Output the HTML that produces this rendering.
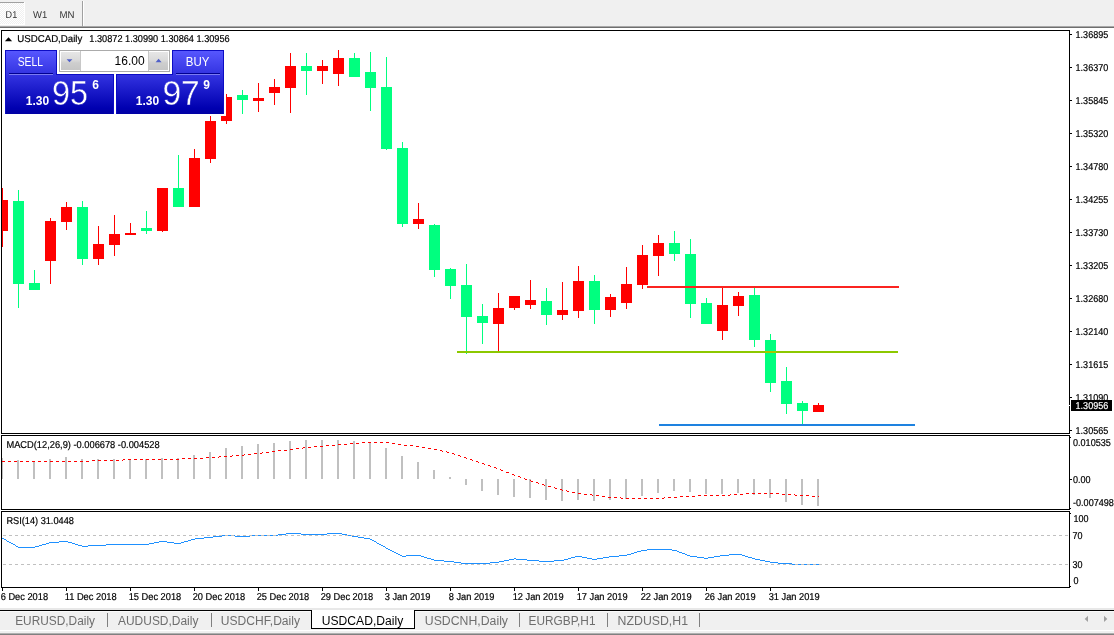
<!DOCTYPE html>
<html><head><meta charset="utf-8"><title>USDCAD,Daily</title>
<style>
html,body{margin:0;padding:0;background:#fff;}
body{width:1114px;height:635px;overflow:hidden;font-family:"Liberation Sans",sans-serif;}
svg{display:block;position:absolute;left:0;top:0;}
text{font-family:"Liberation Sans",sans-serif;}
.t9{font-size:10px;fill:#000;stroke:#000;stroke-width:0.2px;text-rendering:geometricPrecision;}
.tab{font-size:12px;fill:#6e6e6e;}
</style></head><body>
<svg width="1114" height="635" viewBox="0 0 1114 635">
<defs>
<pattern id="dith" x="0" y="0" width="2" height="2" patternUnits="userSpaceOnUse"><rect width="2" height="2" fill="#f0f0f0"/><rect x="0" y="0" width="1" height="1" fill="#fff"/><rect x="1" y="1" width="1" height="1" fill="#fff"/></pattern>
<linearGradient id="gbtn" x1="0" y1="0" x2="0" y2="1"><stop offset="0" stop-color="#5858ff"/><stop offset="1" stop-color="#3232e0"/></linearGradient>
<linearGradient id="gbox" gradientUnits="userSpaceOnUse" x1="0" y1="74" x2="0" y2="114"><stop offset="0" stop-color="#3434e2"/><stop offset="0.85" stop-color="#0000b0"/><stop offset="1" stop-color="#0000a4"/></linearGradient>
<linearGradient id="gspin" x1="0" y1="0" x2="0" y2="1"><stop offset="0" stop-color="#e6e6e6"/><stop offset="0.45" stop-color="#dadada"/><stop offset="0.6" stop-color="#cecece"/><stop offset="1" stop-color="#c6c6c6"/></linearGradient>
</defs>
<g shape-rendering="crispEdges">

<rect x="0" y="0" width="1114" height="635" fill="#fff"/>
<rect x="0" y="0" width="1114" height="26" fill="#f0f0f0"/>
<rect x="0" y="26" width="1114" height="1" fill="#a8a8a8"/>
<rect x="0" y="27" width="1114" height="1" fill="#6e6e6e"/>
<rect x="0" y="3" width="24" height="21" fill="url(#dith)"/>
<rect x="0" y="2" width="24" height="1" fill="#a0a0a0"/>
<rect x="24" y="2" width="1" height="23" fill="#fff"/><rect x="0" y="24" width="25" height="1" fill="#fff"/>
<rect x="82" y="1" width="1" height="26" fill="#a0a0a0"/><rect x="83" y="1" width="1" height="25" fill="#fff"/>
<clipPath id="cc"><rect x="2" y="31" width="1067" height="402"/></clipPath><g clip-path="url(#cc)">
<rect x="2" y="188" width="1" height="59" fill="#ff0000"/>
<rect x="-3" y="200" width="11" height="31" fill="#ff0000"/>
<rect x="18" y="190" width="1" height="118" fill="#00ff7f"/>
<rect x="13" y="201" width="11" height="83" fill="#00ff7f"/>
<rect x="34" y="270" width="1" height="20" fill="#00ff7f"/>
<rect x="29" y="283" width="11" height="7" fill="#00ff7f"/>
<rect x="50" y="218" width="1" height="66" fill="#ff0000"/>
<rect x="45" y="221" width="11" height="40" fill="#ff0000"/>
<rect x="66" y="202" width="1" height="28" fill="#ff0000"/>
<rect x="61" y="207" width="11" height="15" fill="#ff0000"/>
<rect x="82" y="201" width="1" height="64" fill="#00ff7f"/>
<rect x="77" y="207" width="11" height="52" fill="#00ff7f"/>
<rect x="98" y="226" width="1" height="39" fill="#ff0000"/>
<rect x="93" y="244" width="11" height="15" fill="#ff0000"/>
<rect x="114" y="215" width="1" height="41" fill="#ff0000"/>
<rect x="109" y="234" width="11" height="11" fill="#ff0000"/>
<rect x="130" y="223" width="1" height="12" fill="#ff0000"/>
<rect x="125" y="233" width="11" height="2" fill="#ff0000"/>
<rect x="146" y="211" width="1" height="23" fill="#00ff7f"/>
<rect x="141" y="228" width="11" height="3" fill="#00ff7f"/>
<rect x="162" y="188" width="1" height="44" fill="#ff0000"/>
<rect x="157" y="188" width="11" height="43" fill="#ff0000"/>
<rect x="178" y="155" width="1" height="52" fill="#00ff7f"/>
<rect x="173" y="188" width="11" height="19" fill="#00ff7f"/>
<rect x="194" y="149" width="1" height="58" fill="#ff0000"/>
<rect x="189" y="158" width="11" height="49" fill="#ff0000"/>
<rect x="210" y="116" width="1" height="47" fill="#ff0000"/>
<rect x="205" y="121" width="11" height="38" fill="#ff0000"/>
<rect x="226" y="94" width="1" height="30" fill="#ff0000"/>
<rect x="221" y="97" width="11" height="24" fill="#ff0000"/>
<rect x="242" y="90" width="1" height="24" fill="#00ff7f"/>
<rect x="237" y="95" width="11" height="5" fill="#00ff7f"/>
<rect x="258" y="83" width="1" height="29" fill="#ff0000"/>
<rect x="253" y="98" width="11" height="3" fill="#ff0000"/>
<rect x="274" y="79" width="1" height="26" fill="#ff0000"/>
<rect x="269" y="87" width="11" height="6" fill="#ff0000"/>
<rect x="290" y="53" width="1" height="60" fill="#ff0000"/>
<rect x="285" y="66" width="11" height="22" fill="#ff0000"/>
<rect x="306" y="53" width="1" height="42" fill="#00ff7f"/>
<rect x="301" y="66" width="11" height="5" fill="#00ff7f"/>
<rect x="322" y="60" width="1" height="24" fill="#ff0000"/>
<rect x="317" y="66" width="11" height="5" fill="#ff0000"/>
<rect x="338" y="50" width="1" height="36" fill="#ff0000"/>
<rect x="333" y="58" width="11" height="16" fill="#ff0000"/>
<rect x="354" y="53" width="1" height="24" fill="#00ff7f"/>
<rect x="349" y="58" width="11" height="19" fill="#00ff7f"/>
<rect x="370" y="52" width="1" height="59" fill="#00ff7f"/>
<rect x="365" y="72" width="11" height="16" fill="#00ff7f"/>
<rect x="386" y="57" width="1" height="93" fill="#00ff7f"/>
<rect x="381" y="87" width="11" height="62" fill="#00ff7f"/>
<rect x="402" y="142" width="1" height="85" fill="#00ff7f"/>
<rect x="397" y="148" width="11" height="76" fill="#00ff7f"/>
<rect x="418" y="203" width="1" height="26" fill="#ff0000"/>
<rect x="413" y="219" width="11" height="5" fill="#ff0000"/>
<rect x="434" y="224" width="1" height="53" fill="#00ff7f"/>
<rect x="429" y="225" width="11" height="45" fill="#00ff7f"/>
<rect x="450" y="268" width="1" height="31" fill="#00ff7f"/>
<rect x="445" y="269" width="11" height="17" fill="#00ff7f"/>
<rect x="466" y="264" width="1" height="90" fill="#00ff7f"/>
<rect x="461" y="285" width="11" height="32" fill="#00ff7f"/>
<rect x="482" y="304" width="1" height="40" fill="#00ff7f"/>
<rect x="477" y="316" width="11" height="7" fill="#00ff7f"/>
<rect x="498" y="293" width="1" height="59" fill="#ff0000"/>
<rect x="493" y="308" width="11" height="16" fill="#ff0000"/>
<rect x="514" y="296" width="1" height="14" fill="#ff0000"/>
<rect x="509" y="296" width="11" height="12" fill="#ff0000"/>
<rect x="530" y="280" width="1" height="29" fill="#ff0000"/>
<rect x="525" y="300" width="11" height="5" fill="#ff0000"/>
<rect x="546" y="288" width="1" height="37" fill="#00ff7f"/>
<rect x="541" y="301" width="11" height="14" fill="#00ff7f"/>
<rect x="562" y="282" width="1" height="38" fill="#ff0000"/>
<rect x="557" y="310" width="11" height="5" fill="#ff0000"/>
<rect x="578" y="266" width="1" height="52" fill="#ff0000"/>
<rect x="573" y="281" width="11" height="30" fill="#ff0000"/>
<rect x="594" y="275" width="1" height="49" fill="#00ff7f"/>
<rect x="589" y="281" width="11" height="29" fill="#00ff7f"/>
<rect x="610" y="294" width="1" height="23" fill="#ff0000"/>
<rect x="605" y="297" width="11" height="13" fill="#ff0000"/>
<rect x="626" y="267" width="1" height="42" fill="#ff0000"/>
<rect x="621" y="284" width="11" height="19" fill="#ff0000"/>
<rect x="642" y="245" width="1" height="44" fill="#ff0000"/>
<rect x="637" y="255" width="11" height="30" fill="#ff0000"/>
<rect x="658" y="235" width="1" height="41" fill="#ff0000"/>
<rect x="653" y="243" width="11" height="13" fill="#ff0000"/>
<rect x="674" y="231" width="1" height="30" fill="#00ff7f"/>
<rect x="669" y="243" width="11" height="11" fill="#00ff7f"/>
<rect x="690" y="239" width="1" height="79" fill="#00ff7f"/>
<rect x="685" y="254" width="11" height="50" fill="#00ff7f"/>
<rect x="706" y="298" width="1" height="26" fill="#00ff7f"/>
<rect x="701" y="303" width="11" height="21" fill="#00ff7f"/>
<rect x="722" y="287" width="1" height="53" fill="#ff0000"/>
<rect x="717" y="305" width="11" height="26" fill="#ff0000"/>
<rect x="738" y="292" width="1" height="24" fill="#ff0000"/>
<rect x="733" y="296" width="11" height="10" fill="#ff0000"/>
<rect x="754" y="287" width="1" height="60" fill="#00ff7f"/>
<rect x="749" y="295" width="11" height="45" fill="#00ff7f"/>
<rect x="770" y="334" width="1" height="58" fill="#00ff7f"/>
<rect x="765" y="340" width="11" height="43" fill="#00ff7f"/>
<rect x="786" y="367" width="1" height="47" fill="#00ff7f"/>
<rect x="781" y="381" width="11" height="23" fill="#00ff7f"/>
<rect x="802" y="401" width="1" height="23" fill="#00ff7f"/>
<rect x="797" y="403" width="11" height="8" fill="#00ff7f"/>
<rect x="818" y="403" width="1" height="9" fill="#ff0000"/>
<rect x="813" y="405" width="11" height="7" fill="#ff0000"/>
</g>
<rect x="647" y="286" width="252" height="2" fill="#fb2420"/>
<rect x="457" y="351" width="441" height="2" fill="#8cc800"/><rect x="765" y="351" width="11" height="2" fill="#a8c400"/>
<rect x="659" y="424" width="256" height="2" fill="#1e82e0"/>
<rect x="1" y="458" width="2" height="21" fill="#c0c0c0"/>
<rect x="17" y="460" width="2" height="19" fill="#c0c0c0"/>
<rect x="33" y="461" width="2" height="18" fill="#c0c0c0"/>
<rect x="49" y="459" width="2" height="20" fill="#c0c0c0"/>
<rect x="65" y="457" width="2" height="22" fill="#c0c0c0"/>
<rect x="81" y="459" width="2" height="20" fill="#c0c0c0"/>
<rect x="97" y="459" width="2" height="20" fill="#c0c0c0"/>
<rect x="113" y="459" width="2" height="20" fill="#c0c0c0"/>
<rect x="129" y="459" width="2" height="20" fill="#c0c0c0"/>
<rect x="145" y="459" width="2" height="20" fill="#c0c0c0"/>
<rect x="161" y="458" width="2" height="21" fill="#c0c0c0"/>
<rect x="177" y="458" width="2" height="21" fill="#c0c0c0"/>
<rect x="193" y="455" width="2" height="24" fill="#c0c0c0"/>
<rect x="209" y="452" width="2" height="27" fill="#c0c0c0"/>
<rect x="225" y="448" width="2" height="31" fill="#c0c0c0"/>
<rect x="241" y="446" width="2" height="33" fill="#c0c0c0"/>
<rect x="257" y="444" width="2" height="35" fill="#c0c0c0"/>
<rect x="273" y="443" width="2" height="36" fill="#c0c0c0"/>
<rect x="289" y="441" width="2" height="38" fill="#c0c0c0"/>
<rect x="305" y="440" width="2" height="39" fill="#c0c0c0"/>
<rect x="321" y="440" width="2" height="39" fill="#c0c0c0"/>
<rect x="337" y="440" width="2" height="39" fill="#c0c0c0"/>
<rect x="353" y="441" width="2" height="38" fill="#c0c0c0"/>
<rect x="369" y="442" width="2" height="37" fill="#c0c0c0"/>
<rect x="385" y="448" width="2" height="31" fill="#c0c0c0"/>
<rect x="401" y="456" width="2" height="23" fill="#c0c0c0"/>
<rect x="417" y="462" width="2" height="17" fill="#c0c0c0"/>
<rect x="433" y="470" width="2" height="9" fill="#c0c0c0"/>
<rect x="449" y="477" width="2" height="2" fill="#c0c0c0"/>
<rect x="465" y="479" width="2" height="6" fill="#c0c0c0"/>
<rect x="481" y="479" width="2" height="12" fill="#c0c0c0"/>
<rect x="497" y="479" width="2" height="16" fill="#c0c0c0"/>
<rect x="513" y="479" width="2" height="18" fill="#c0c0c0"/>
<rect x="529" y="479" width="2" height="19" fill="#c0c0c0"/>
<rect x="545" y="479" width="2" height="21" fill="#c0c0c0"/>
<rect x="561" y="479" width="2" height="22" fill="#c0c0c0"/>
<rect x="577" y="479" width="2" height="21" fill="#c0c0c0"/>
<rect x="593" y="479" width="2" height="22" fill="#c0c0c0"/>
<rect x="609" y="479" width="2" height="21" fill="#c0c0c0"/>
<rect x="625" y="479" width="2" height="20" fill="#c0c0c0"/>
<rect x="641" y="479" width="2" height="17" fill="#c0c0c0"/>
<rect x="657" y="479" width="2" height="14" fill="#c0c0c0"/>
<rect x="673" y="479" width="2" height="12" fill="#c0c0c0"/>
<rect x="689" y="479" width="2" height="13" fill="#c0c0c0"/>
<rect x="705" y="479" width="2" height="15" fill="#c0c0c0"/>
<rect x="721" y="479" width="2" height="15" fill="#c0c0c0"/>
<rect x="737" y="479" width="2" height="14" fill="#c0c0c0"/>
<rect x="753" y="479" width="2" height="16" fill="#c0c0c0"/>
<rect x="769" y="479" width="2" height="19" fill="#c0c0c0"/>
<rect x="785" y="479" width="2" height="23" fill="#c0c0c0"/>
<rect x="801" y="479" width="2" height="26" fill="#c0c0c0"/>
<rect x="817" y="479" width="2" height="27" fill="#c0c0c0"/>
<g fill="#ff0000"><rect x="2" y="461" width="3" height="1"/><rect x="8" y="461" width="3" height="1"/><rect x="14" y="461" width="3" height="1"/><rect x="20" y="461" width="3" height="1"/><rect x="26" y="461" width="3" height="1"/><rect x="32" y="461" width="3" height="1"/><rect x="38" y="461" width="3" height="1"/><rect x="44" y="461" width="3" height="1"/><rect x="50" y="461" width="3" height="1"/><rect x="56" y="461" width="3" height="1"/><rect x="62" y="461" width="3" height="1"/><rect x="68" y="461" width="3" height="1"/><rect x="74" y="461" width="3" height="1"/><rect x="80" y="461" width="3" height="1"/><rect x="86" y="461" width="3" height="1"/><rect x="92" y="460" width="3" height="1"/><rect x="98" y="460" width="3" height="1"/><rect x="104" y="460" width="3" height="1"/><rect x="110" y="460" width="3" height="1"/><rect x="116" y="460" width="3" height="1"/><rect x="122" y="460" width="1" height="1"/><rect x="123" y="459" width="2" height="1"/><rect x="128" y="459" width="3" height="1"/><rect x="134" y="459" width="3" height="1"/><rect x="140" y="459" width="3" height="1"/><rect x="146" y="459" width="3" height="1"/><rect x="152" y="459" width="3" height="1"/><rect x="158" y="459" width="3" height="1"/><rect x="164" y="459" width="3" height="1"/><rect x="170" y="459" width="3" height="1"/><rect x="176" y="459" width="3" height="1"/><rect x="182" y="458" width="3" height="1"/><rect x="188" y="458" width="3" height="1"/><rect x="194" y="458" width="3" height="1"/><rect x="200" y="458" width="3" height="1"/><rect x="206" y="457" width="3" height="1"/><rect x="212" y="457" width="3" height="1"/><rect x="218" y="457" width="1" height="1"/><rect x="219" y="456" width="2" height="1"/><rect x="224" y="456" width="3" height="1"/><rect x="230" y="456" width="2" height="1"/><rect x="232" y="455" width="1" height="1"/><rect x="236" y="455" width="3" height="1"/><rect x="242" y="455" width="2" height="1"/><rect x="244" y="454" width="1" height="1"/><rect x="248" y="454" width="3" height="1"/><rect x="254" y="453" width="3" height="1"/><rect x="260" y="453" width="2" height="1"/><rect x="262" y="452" width="1" height="1"/><rect x="266" y="452" width="3" height="1"/><rect x="272" y="451" width="3" height="1"/><rect x="278" y="450" width="3" height="1"/><rect x="284" y="450" width="3" height="1"/><rect x="290" y="449" width="3" height="1"/><rect x="296" y="448" width="3" height="1"/><rect x="302" y="448" width="1" height="1"/><rect x="303" y="447" width="2" height="1"/><rect x="308" y="447" width="3" height="1"/><rect x="314" y="446" width="3" height="1"/><rect x="320" y="446" width="3" height="1"/><rect x="326" y="445" width="3" height="1"/><rect x="332" y="445" width="3" height="1"/><rect x="338" y="444" width="3" height="1"/><rect x="344" y="444" width="3" height="1"/><rect x="350" y="443" width="3" height="1"/><rect x="356" y="443" width="3" height="1"/><rect x="362" y="442" width="3" height="1"/><rect x="368" y="442" width="3" height="1"/><rect x="374" y="442" width="3" height="1"/><rect x="380" y="442" width="3" height="1"/><rect x="386" y="442" width="3" height="1"/><rect x="392" y="443" width="3" height="1"/><rect x="398" y="444" width="3" height="1"/><rect x="404" y="445" width="3" height="1"/><rect x="410" y="445" width="3" height="1"/><rect x="416" y="446" width="3" height="1"/><rect x="422" y="447" width="3" height="1"/><rect x="428" y="448" width="3" height="1"/><rect x="434" y="449" width="3" height="1"/><rect x="440" y="450" width="2" height="1"/><rect x="442" y="451" width="1" height="1"/><rect x="446" y="451" width="1" height="1"/><rect x="447" y="452" width="2" height="1"/><rect x="452" y="453" width="2" height="1"/><rect x="454" y="454" width="1" height="1"/><rect x="458" y="455" width="2" height="1"/><rect x="460" y="456" width="1" height="1"/><rect x="464" y="457" width="2" height="1"/><rect x="466" y="458" width="1" height="1"/><rect x="470" y="459" width="2" height="1"/><rect x="472" y="460" width="1" height="1"/><rect x="476" y="461" width="2" height="1"/><rect x="478" y="462" width="1" height="1"/><rect x="482" y="463" width="2" height="1"/><rect x="484" y="464" width="1" height="1"/><rect x="488" y="465" width="2" height="1"/><rect x="490" y="466" width="1" height="1"/><rect x="494" y="467" width="2" height="1"/><rect x="496" y="468" width="1" height="1"/><rect x="500" y="469" width="1" height="1"/><rect x="501" y="470" width="2" height="1"/><rect x="506" y="472" width="3" height="1"/><rect x="512" y="474" width="2" height="1"/><rect x="514" y="475" width="1" height="1"/><rect x="518" y="476" width="2" height="1"/><rect x="520" y="477" width="1" height="1"/><rect x="524" y="478" width="1" height="1"/><rect x="525" y="479" width="2" height="1"/><rect x="530" y="480" width="1" height="1"/><rect x="531" y="481" width="2" height="1"/><rect x="536" y="482" width="2" height="1"/><rect x="538" y="483" width="1" height="1"/><rect x="542" y="484" width="2" height="1"/><rect x="544" y="485" width="1" height="1"/><rect x="548" y="486" width="3" height="1"/><rect x="554" y="487" width="1" height="1"/><rect x="555" y="488" width="2" height="1"/><rect x="560" y="489" width="2" height="1"/><rect x="562" y="490" width="1" height="1"/><rect x="566" y="490" width="1" height="1"/><rect x="567" y="491" width="2" height="1"/><rect x="572" y="492" width="3" height="1"/><rect x="578" y="493" width="3" height="1"/><rect x="584" y="494" width="3" height="1"/><rect x="590" y="494" width="2" height="1"/><rect x="592" y="495" width="1" height="1"/><rect x="596" y="495" width="3" height="1"/><rect x="602" y="496" width="3" height="1"/><rect x="608" y="497" width="3" height="1"/><rect x="614" y="497" width="3" height="1"/><rect x="620" y="497" width="1" height="1"/><rect x="621" y="498" width="2" height="1"/><rect x="626" y="498" width="3" height="1"/><rect x="632" y="498" width="3" height="1"/><rect x="638" y="498" width="3" height="1"/><rect x="644" y="498" width="3" height="1"/><rect x="650" y="498" width="3" height="1"/><rect x="656" y="498" width="3" height="1"/><rect x="662" y="498" width="2" height="1"/><rect x="664" y="497" width="1" height="1"/><rect x="668" y="497" width="3" height="1"/><rect x="674" y="497" width="3" height="1"/><rect x="680" y="496" width="3" height="1"/><rect x="686" y="496" width="3" height="1"/><rect x="692" y="496" width="3" height="1"/><rect x="698" y="495" width="3" height="1"/><rect x="704" y="495" width="3" height="1"/><rect x="710" y="495" width="3" height="1"/><rect x="716" y="495" width="3" height="1"/><rect x="722" y="495" width="3" height="1"/><rect x="728" y="495" width="2" height="1"/><rect x="730" y="494" width="1" height="1"/><rect x="734" y="494" width="3" height="1"/><rect x="740" y="494" width="3" height="1"/><rect x="746" y="493" width="3" height="1"/><rect x="752" y="493" width="3" height="1"/><rect x="758" y="493" width="3" height="1"/><rect x="764" y="493" width="3" height="1"/><rect x="770" y="493" width="3" height="1"/><rect x="776" y="493" width="3" height="1"/><rect x="782" y="494" width="3" height="1"/><rect x="788" y="494" width="3" height="1"/><rect x="794" y="494" width="1" height="1"/><rect x="795" y="495" width="2" height="1"/><rect x="800" y="495" width="3" height="1"/><rect x="806" y="495" width="3" height="1"/><rect x="812" y="496" width="3" height="1"/><rect x="818" y="496" width="1" height="1"/></g>
<g fill="#1e90ff"><rect x="2" y="538" width="2" height="1"/><rect x="4" y="539" width="2" height="1"/><rect x="6" y="540" width="1" height="1"/><rect x="7" y="541" width="2" height="1"/><rect x="9" y="542" width="2" height="1"/><rect x="11" y="543" width="2" height="1"/><rect x="13" y="544" width="2" height="1"/><rect x="15" y="545" width="1" height="1"/><rect x="16" y="546" width="2" height="1"/><rect x="18" y="547" width="17" height="1"/><rect x="35" y="546" width="4" height="1"/><rect x="39" y="545" width="3" height="1"/><rect x="42" y="544" width="4" height="1"/><rect x="46" y="543" width="3" height="1"/><rect x="49" y="542" width="10" height="1"/><rect x="59" y="541" width="9" height="1"/><rect x="68" y="542" width="4" height="1"/><rect x="72" y="543" width="3" height="1"/><rect x="75" y="544" width="3" height="1"/><rect x="78" y="545" width="4" height="1"/><rect x="82" y="546" width="6" height="1"/><rect x="88" y="545" width="18" height="1"/><rect x="106" y="544" width="43" height="1"/><rect x="149" y="543" width="5" height="1"/><rect x="154" y="542" width="5" height="1"/><rect x="159" y="541" width="8" height="1"/><rect x="167" y="542" width="7" height="1"/><rect x="174" y="543" width="7" height="1"/><rect x="181" y="542" width="3" height="1"/><rect x="184" y="541" width="4" height="1"/><rect x="188" y="540" width="3" height="1"/><rect x="191" y="539" width="4" height="1"/><rect x="195" y="538" width="9" height="1"/><rect x="204" y="537" width="9" height="1"/><rect x="213" y="536" width="9" height="1"/><rect x="222" y="535" width="13" height="1"/><rect x="235" y="536" width="15" height="1"/><rect x="250" y="535" width="28" height="1"/><rect x="278" y="534" width="8" height="1"/><rect x="286" y="533" width="15" height="1"/><rect x="301" y="534" width="26" height="1"/><rect x="327" y="533" width="15" height="1"/><rect x="342" y="534" width="5" height="1"/><rect x="347" y="535" width="5" height="1"/><rect x="352" y="536" width="6" height="1"/><rect x="358" y="537" width="6" height="1"/><rect x="364" y="538" width="6" height="1"/><rect x="370" y="539" width="2" height="1"/><rect x="372" y="540" width="2" height="1"/><rect x="374" y="541" width="2" height="1"/><rect x="376" y="542" width="1" height="1"/><rect x="377" y="543" width="2" height="1"/><rect x="379" y="544" width="2" height="1"/><rect x="381" y="545" width="2" height="1"/><rect x="383" y="546" width="2" height="1"/><rect x="385" y="547" width="1" height="1"/><rect x="386" y="548" width="2" height="1"/><rect x="388" y="549" width="2" height="1"/><rect x="390" y="550" width="2" height="1"/><rect x="392" y="551" width="2" height="1"/><rect x="394" y="552" width="2" height="1"/><rect x="396" y="553" width="2" height="1"/><rect x="398" y="554" width="2" height="1"/><rect x="400" y="555" width="2" height="1"/><rect x="402" y="556" width="4" height="1"/><rect x="406" y="555" width="15" height="1"/><rect x="421" y="556" width="3" height="1"/><rect x="424" y="557" width="3" height="1"/><rect x="427" y="558" width="4" height="1"/><rect x="431" y="559" width="3" height="1"/><rect x="434" y="560" width="10" height="1"/><rect x="444" y="561" width="10" height="1"/><rect x="454" y="562" width="7" height="1"/><rect x="461" y="563" width="29" height="1"/><rect x="490" y="562" width="9" height="1"/><rect x="499" y="561" width="5" height="1"/><rect x="504" y="560" width="5" height="1"/><rect x="509" y="559" width="5" height="1"/><rect x="514" y="558" width="2" height="1"/><rect x="516" y="559" width="11" height="1"/><rect x="527" y="560" width="12" height="1"/><rect x="539" y="561" width="15" height="1"/><rect x="554" y="560" width="10" height="1"/><rect x="564" y="559" width="4" height="1"/><rect x="568" y="558" width="3" height="1"/><rect x="571" y="557" width="4" height="1"/><rect x="575" y="556" width="7" height="1"/><rect x="582" y="557" width="5" height="1"/><rect x="587" y="558" width="5" height="1"/><rect x="592" y="559" width="5" height="1"/><rect x="597" y="558" width="6" height="1"/><rect x="603" y="557" width="6" height="1"/><rect x="609" y="556" width="10" height="1"/><rect x="619" y="555" width="8" height="1"/><rect x="627" y="554" width="4" height="1"/><rect x="631" y="553" width="3" height="1"/><rect x="634" y="552" width="3" height="1"/><rect x="637" y="551" width="4" height="1"/><rect x="641" y="550" width="6" height="1"/><rect x="647" y="549" width="25" height="1"/><rect x="672" y="550" width="5" height="1"/><rect x="677" y="551" width="2" height="1"/><rect x="679" y="552" width="3" height="1"/><rect x="682" y="553" width="3" height="1"/><rect x="685" y="554" width="2" height="1"/><rect x="687" y="555" width="3" height="1"/><rect x="690" y="556" width="7" height="1"/><rect x="697" y="557" width="7" height="1"/><rect x="704" y="558" width="4" height="1"/><rect x="708" y="557" width="6" height="1"/><rect x="714" y="556" width="6" height="1"/><rect x="720" y="555" width="9" height="1"/><rect x="729" y="554" width="13" height="1"/><rect x="742" y="555" width="3" height="1"/><rect x="745" y="556" width="3" height="1"/><rect x="748" y="557" width="4" height="1"/><rect x="752" y="558" width="3" height="1"/><rect x="755" y="559" width="5" height="1"/><rect x="760" y="560" width="5" height="1"/><rect x="765" y="561" width="5" height="1"/><rect x="770" y="562" width="8" height="1"/><rect x="778" y="563" width="14" height="1"/><rect x="792" y="564" width="27" height="1"/></g>
<line x1="3" y1="535.5" x2="1068" y2="535.5" stroke="#c0c0c0" stroke-width="1" stroke-dasharray="3 3"/>
<line x1="3" y1="564.5" x2="1068" y2="564.5" stroke="#c0c0c0" stroke-width="1" stroke-dasharray="3 3"/>
<rect x="1" y="30" width="1069" height="1" fill="#000"/>
<rect x="1" y="433" width="1069" height="1" fill="#000"/>
<rect x="1" y="30" width="1" height="404" fill="#000"/>
<rect x="1069" y="30" width="1" height="404" fill="#000"/>
<rect x="1" y="435" width="1069" height="1" fill="#000"/>
<rect x="1" y="509" width="1069" height="1" fill="#000"/>
<rect x="1" y="435" width="1" height="75" fill="#000"/>
<rect x="1069" y="435" width="1" height="75" fill="#000"/>
<rect x="1" y="511" width="1069" height="1" fill="#000"/>
<rect x="1" y="587" width="1069" height="1" fill="#000"/>
<rect x="1" y="511" width="1" height="77" fill="#000"/>
<rect x="1069" y="511" width="1" height="77" fill="#000"/>
<rect x="1070" y="34" width="2" height="1" fill="#000"/>
<rect x="1070" y="67" width="2" height="1" fill="#000"/>
<rect x="1070" y="100" width="2" height="1" fill="#000"/>
<rect x="1070" y="133" width="2" height="1" fill="#000"/>
<rect x="1070" y="166" width="2" height="1" fill="#000"/>
<rect x="1070" y="199" width="2" height="1" fill="#000"/>
<rect x="1070" y="232" width="2" height="1" fill="#000"/>
<rect x="1070" y="265" width="2" height="1" fill="#000"/>
<rect x="1070" y="298" width="2" height="1" fill="#000"/>
<rect x="1070" y="331" width="2" height="1" fill="#000"/>
<rect x="1070" y="364" width="2" height="1" fill="#000"/>
<rect x="1070" y="397" width="2" height="1" fill="#000"/>
<rect x="1070" y="430" width="2" height="1" fill="#000"/>
<rect x="1070" y="437" width="1" height="1" fill="#000"/>
<rect x="1070" y="479" width="2" height="1" fill="#000"/>
<rect x="1070" y="508" width="1" height="1" fill="#000"/>
<rect x="1070" y="513" width="1" height="1" fill="#000"/>
<rect x="1070" y="586" width="1" height="1" fill="#000"/>
<rect x="2" y="588" width="1" height="3" fill="#000"/>
<rect x="66" y="588" width="1" height="3" fill="#000"/>
<rect x="130" y="588" width="1" height="3" fill="#000"/>
<rect x="194" y="588" width="1" height="3" fill="#000"/>
<rect x="258" y="588" width="1" height="3" fill="#000"/>
<rect x="322" y="588" width="1" height="3" fill="#000"/>
<rect x="386" y="588" width="1" height="3" fill="#000"/>
<rect x="450" y="588" width="1" height="3" fill="#000"/>
<rect x="514" y="588" width="1" height="3" fill="#000"/>
<rect x="578" y="588" width="1" height="3" fill="#000"/>
<rect x="642" y="588" width="1" height="3" fill="#000"/>
<rect x="706" y="588" width="1" height="3" fill="#000"/>
<rect x="770" y="588" width="1" height="3" fill="#000"/>
<rect x="1071" y="400" width="41" height="11" fill="#000"/>
<rect x="1069" y="405" width="2" height="1" fill="#fff"/>
<rect x="5" y="50" width="221" height="66" fill="#fff"/>
<rect x="5" y="50" width="52" height="25" fill="url(#gbtn)"/>
<rect x="172" y="50" width="52" height="25" fill="url(#gbtn)"/>
<rect x="5" y="74" width="109" height="40" fill="url(#gbox)"/>
<rect x="116" y="74" width="108" height="40" fill="url(#gbox)"/>
<rect x="114" y="74" width="2" height="40" fill="#fff"/>
<rect x="9" y="73" width="44" height="1" fill="#000090"/><rect x="9" y="74" width="44" height="1" fill="#7c7cf2"/>
<rect x="176" y="73" width="44" height="1" fill="#000090"/><rect x="176" y="74" width="44" height="1" fill="#7c7cf2"/>
<path d="M5.5 114 V50.5 H56.5 V74.5 H113.5 V114" fill="none" stroke="#0c0cc4" stroke-width="1"/>
<path d="M116.5 114 V74.5 H172.5 V50.5 H223.5 V114" fill="none" stroke="#0c0cc4" stroke-width="1"/>
<rect x="59" y="50" width="111" height="22" fill="#ababab"/>
<rect x="60" y="51" width="109" height="20" fill="#fff"/>
<rect x="61" y="52" width="19" height="18" fill="url(#gspin)"/>
<rect x="80" y="51" width="1" height="20" fill="#c8c8c8"/>
<rect x="149" y="52" width="19" height="18" fill="url(#gspin)"/>
<rect x="148" y="51" width="1" height="20" fill="#c8c8c8"/>
<rect x="0" y="608" width="1114" height="2" fill="#e8e8e8"/>
<rect x="0" y="610" width="1114" height="1" fill="#000"/>
<rect x="0" y="611" width="1114" height="24" fill="#f0f0f0"/>
<rect x="0" y="611" width="1114" height="1" fill="#fafafa"/>
<rect x="0" y="630" width="1114" height="1" fill="#fff"/>
<rect x="0" y="633" width="1114" height="1" fill="#b0b0b0"/>
<rect x="0" y="634" width="1114" height="1" fill="#808080"/>
<rect x="311" y="610" width="104" height="19" fill="#fff"/>
<rect x="311" y="610" width="1" height="19" fill="#000"/><rect x="414" y="610" width="1" height="19" fill="#000"/><rect x="311" y="628" width="104" height="1" fill="#000"/>
<rect x="107" y="613" width="1" height="14" fill="#808080"/>
<rect x="211" y="613" width="1" height="14" fill="#808080"/>
<rect x="519" y="613" width="1" height="14" fill="#808080"/>
<rect x="607" y="613" width="1" height="14" fill="#808080"/>
<rect x="699" y="613" width="1" height="14" fill="#808080"/>
</g>
<path d="M4.9 41.2 L8.5 37.2 L12.1 41.2 Z" fill="#000"/>
<path d="M66.6 59.2 L72.4 59.2 L69.5 62.3 Z" fill="#5060c8"/>
<path d="M155.6 62.2 L161.6 62.2 L158.6 58.8 Z" fill="#5060c8"/>
<path d="M1088 615.8 L1088 622 L1084.7 618.9 Z" fill="#a0a0a0"/>
<path d="M1104 615.8 L1104 622 L1107.3 618.9 Z" fill="#a0a0a0"/>
<text x="5.6" y="18" class="t9" textLength="11.6" lengthAdjust="spacingAndGlyphs" style="fill:#333;stroke:none">D1</text>
<text x="33.0" y="18" class="t9" textLength="14.2" lengthAdjust="spacingAndGlyphs" style="fill:#333;stroke:none">W1</text>
<text x="59.4" y="18" class="t9" textLength="15.0" lengthAdjust="spacingAndGlyphs" style="fill:#333;stroke:none">MN</text>
<text x="17.3" y="42" class="t9" textLength="65.0" lengthAdjust="spacingAndGlyphs" >USDCAD,Daily</text>
<text x="89.3" y="42" class="t9" textLength="140.4" lengthAdjust="spacingAndGlyphs" >1.30872 1.30990 1.30864 1.30956</text>
<text x="6.4" y="448" class="t9" textLength="153.3" lengthAdjust="spacingAndGlyphs" >MACD(12,26,9) -0.006678 -0.004528</text>
<text x="6.4" y="524" class="t9" textLength="67.5" lengthAdjust="spacingAndGlyphs" >RSI(14) 31.0448</text>
<text x="1075.6" y="38" class="t9" textLength="32.6" lengthAdjust="spacingAndGlyphs" >1.36895</text>
<text x="1075.6" y="71" class="t9" textLength="32.6" lengthAdjust="spacingAndGlyphs" >1.36370</text>
<text x="1075.6" y="104" class="t9" textLength="32.6" lengthAdjust="spacingAndGlyphs" >1.35845</text>
<text x="1075.6" y="137" class="t9" textLength="32.6" lengthAdjust="spacingAndGlyphs" >1.35320</text>
<text x="1075.6" y="170" class="t9" textLength="32.6" lengthAdjust="spacingAndGlyphs" >1.34780</text>
<text x="1075.6" y="203" class="t9" textLength="32.6" lengthAdjust="spacingAndGlyphs" >1.34255</text>
<text x="1075.6" y="236" class="t9" textLength="32.6" lengthAdjust="spacingAndGlyphs" >1.33730</text>
<text x="1075.6" y="269" class="t9" textLength="32.6" lengthAdjust="spacingAndGlyphs" >1.33205</text>
<text x="1075.6" y="302" class="t9" textLength="32.6" lengthAdjust="spacingAndGlyphs" >1.32680</text>
<text x="1075.6" y="335" class="t9" textLength="32.6" lengthAdjust="spacingAndGlyphs" >1.32140</text>
<text x="1075.6" y="368" class="t9" textLength="32.6" lengthAdjust="spacingAndGlyphs" >1.31615</text>
<text x="1075.6" y="401" class="t9" textLength="32.6" lengthAdjust="spacingAndGlyphs" >1.31090</text>
<text x="1075.6" y="434" class="t9" textLength="32.6" lengthAdjust="spacingAndGlyphs" >1.30565</text>
<text x="1075.6" y="409" class="t9" textLength="32.6" lengthAdjust="spacingAndGlyphs" style="fill:#fff;stroke:#fff">1.30956</text>
<text x="1073.0" y="446" class="t9" textLength="37.8" lengthAdjust="spacingAndGlyphs" >0.010535</text>
<text x="1073.0" y="483" class="t9" textLength="17.6" lengthAdjust="spacingAndGlyphs" >0.00</text>
<text x="1073.0" y="506" class="t9" textLength="40.9" lengthAdjust="spacingAndGlyphs" >-0.007498</text>
<text x="1073.4" y="522" class="t9" textLength="15.0" lengthAdjust="spacingAndGlyphs" >100</text>
<text x="1072.4" y="539" class="t9" textLength="10.0" lengthAdjust="spacingAndGlyphs" >70</text>
<text x="1072.4" y="568" class="t9" textLength="10.0" lengthAdjust="spacingAndGlyphs" >30</text>
<text x="1073.5" y="584" class="t9" textLength="5.0" lengthAdjust="spacingAndGlyphs" >0</text>
<text x="0.7" y="600" class="t9" textLength="47.4" lengthAdjust="spacingAndGlyphs" >6 Dec 2018</text>
<text x="64.7" y="600" class="t9" textLength="52.0" lengthAdjust="spacingAndGlyphs" >11 Dec 2018</text>
<text x="128.7" y="600" class="t9" textLength="52.5" lengthAdjust="spacingAndGlyphs" >15 Dec 2018</text>
<text x="192.7" y="600" class="t9" textLength="52.5" lengthAdjust="spacingAndGlyphs" >20 Dec 2018</text>
<text x="256.7" y="600" class="t9" textLength="52.5" lengthAdjust="spacingAndGlyphs" >25 Dec 2018</text>
<text x="320.7" y="600" class="t9" textLength="52.5" lengthAdjust="spacingAndGlyphs" >29 Dec 2018</text>
<text x="384.7" y="600" class="t9" textLength="45.8" lengthAdjust="spacingAndGlyphs" >3 Jan 2019</text>
<text x="448.7" y="600" class="t9" textLength="45.8" lengthAdjust="spacingAndGlyphs" >8 Jan 2019</text>
<text x="512.7" y="600" class="t9" textLength="51.0" lengthAdjust="spacingAndGlyphs" >12 Jan 2019</text>
<text x="576.7" y="600" class="t9" textLength="51.0" lengthAdjust="spacingAndGlyphs" >17 Jan 2019</text>
<text x="640.7" y="600" class="t9" textLength="51.0" lengthAdjust="spacingAndGlyphs" >22 Jan 2019</text>
<text x="704.7" y="600" class="t9" textLength="51.0" lengthAdjust="spacingAndGlyphs" >26 Jan 2019</text>
<text x="768.7" y="600" class="t9" textLength="51.0" lengthAdjust="spacingAndGlyphs" >31 Jan 2019</text>
<text x="15.2" y="624.8" class="tab" textLength="79.8" lengthAdjust="spacingAndGlyphs" >EURUSD,Daily</text>
<text x="118.0" y="624.8" class="tab" textLength="80.4" lengthAdjust="spacingAndGlyphs" >AUDUSD,Daily</text>
<text x="220.8" y="624.8" class="tab" textLength="79.2" lengthAdjust="spacingAndGlyphs" >USDCHF,Daily</text>
<text x="321.8" y="624.8" class="tab" textLength="81.4" lengthAdjust="spacingAndGlyphs" style="fill:#000">USDCAD,Daily</text>
<text x="424.8" y="624.8" class="tab" textLength="83.2" lengthAdjust="spacingAndGlyphs" >USDCNH,Daily</text>
<text x="528.6" y="624.8" class="tab" textLength="66.9" lengthAdjust="spacingAndGlyphs" >EURGBP,H1</text>
<text x="617.6" y="624.8" class="tab" textLength="70.4" lengthAdjust="spacingAndGlyphs" >NZDUSD,H1</text>
<text x="17.7" y="65.8" class="tab" textLength="25.2" lengthAdjust="spacingAndGlyphs" style="fill:#fff">SELL</text>
<text x="185.8" y="65.8" class="tab" textLength="23.6" lengthAdjust="spacingAndGlyphs" style="fill:#fff">BUY</text>
<text x="114.6" y="64.8" class="tab" style="fill:#000">16.00</text>
<text x="25.8" y="104.9" class="tab" style="fill:#fff;font-weight:bold">1.30</text>
<text x="135.8" y="104.9" class="tab" style="fill:#fff;font-weight:bold">1.30</text>
<text x="52.0" y="105.2" class="tab" textLength="36.0" lengthAdjust="spacingAndGlyphs" style="fill:#fff;font-size:35.5px;stroke:url(#gbox);stroke-width:0.45px">95</text>
<text x="162.4" y="105.2" class="tab" textLength="37.4" lengthAdjust="spacingAndGlyphs" style="fill:#fff;font-size:35.5px;stroke:url(#gbox);stroke-width:0.45px">97</text>
<text x="92.2" y="88.8" class="tab" style="fill:#fff;font-weight:bold">6</text>
<text x="203.2" y="88.8" class="tab" style="fill:#fff;font-weight:bold">9</text>
</svg></body></html>
